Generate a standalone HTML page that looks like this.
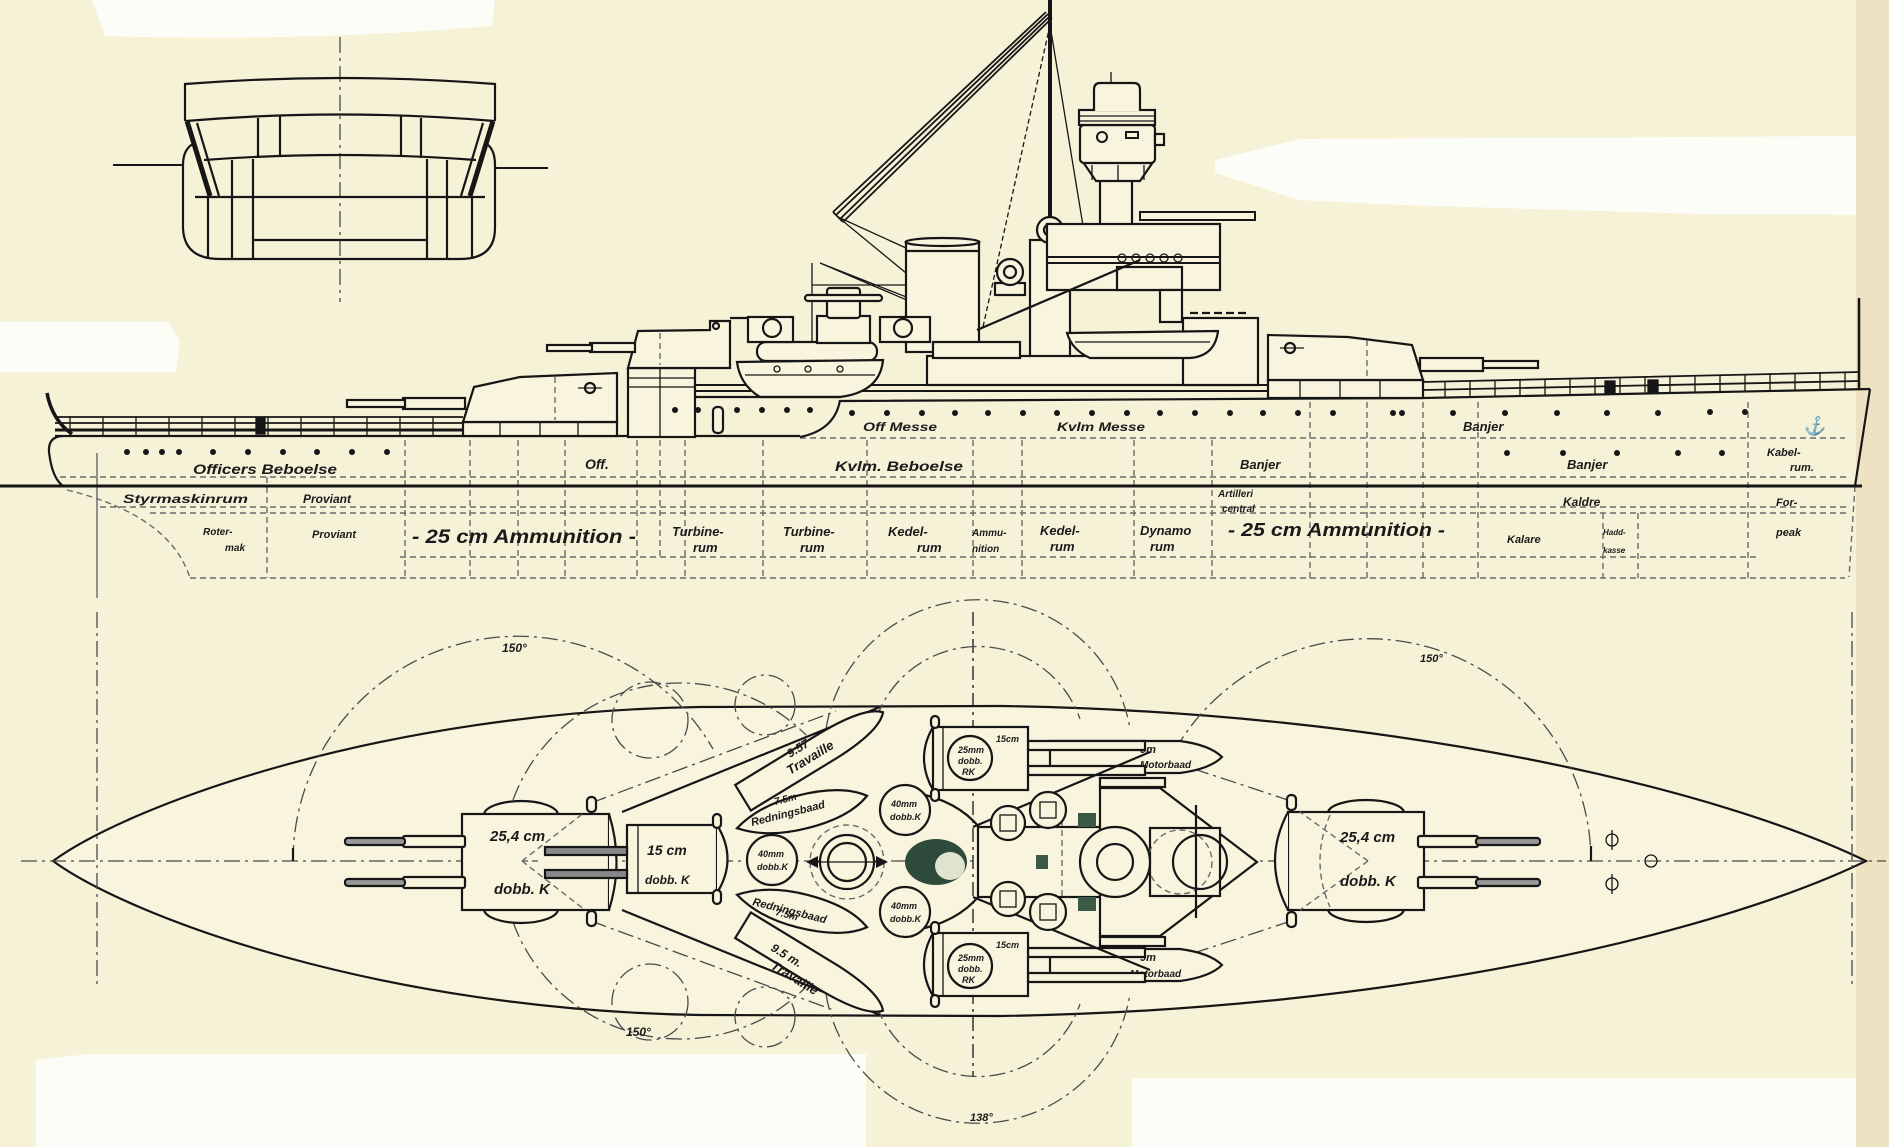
<!DOCTYPE html>
<html><head><meta charset="utf-8"><style>
html,body{margin:0;padding:0;background:#f6f2d8;}
svg{display:block}
text{font-family:"Liberation Sans",sans-serif;font-style:italic;font-weight:bold;fill:#1a1a1a}
.k{stroke:#161616;fill:none;stroke-width:2.2}
.kf{stroke:#161616;fill:#f8f4de;stroke-width:2.2}
.d{stroke:#6a6a6a;fill:none;stroke-width:1.4;stroke-dasharray:6 4}
.dd{stroke:#4a4a4a;fill:none;stroke-width:1.3;stroke-dasharray:16 5 3 5}
.t{stroke:#161616;fill:none;stroke-width:1.3}
</style></head><body>
<svg xmlns="http://www.w3.org/2000/svg" width="1889" height="1147" viewBox="0 0 1889 1147">
<rect width="1889" height="1147" fill="#f6f2d8"/>
<!-- white patches -->
<path d="M92,0 H495 L492,26 Q300,42 105,36 Z" fill="#fdfdf8"/>
<path d="M0,322 H168 L180,340 L176,372 H0 Z" fill="#fdfdf8"/>
<path d="M1215,160 L1300,139 L1889,136 V215 L1700,214 L1400,205 L1300,200 L1215,173 Z" fill="#fdfdf8"/>
<path d="M36,1060 L90,1054 H866 V1147 H36 Z" fill="#fdfdf8"/>
<path d="M1132,1078 H1858 V1147 H1132 Z" fill="#fdfdf8"/>
<rect x="1856" y="0" width="33" height="1147" fill="#ede3c2"/>

<!-- ============ SECTION DRAWING ============ -->
<line class="dd" x1="340" y1="37" x2="340" y2="302"/>
<g class="k" stroke-width="2.4">
<path d="M185,121 V84 Q340,72 495,84 V121"/>
<path d="M186,121 Q340,108 494,121"/>
<path d="M204,160 Q340,150 476,160"/>
<path d="M187,121 L210,196" stroke-width="5"/>
<path d="M197,123 L219,196"/>
<path d="M493,121 L470,196" stroke-width="5"/>
<path d="M483,123 L461,196"/>
<path d="M258,118 V158 M280,116 V156 M401,116 V156 M421,118 V158"/>
<path d="M232,160 V259 M253,159 V259 M427,159 V259 M447,160 V259"/>
<path d="M208,196 V257 M472,196 V257"/>
<path d="M195,197 H485 M253,240 H427"/>
<path d="M195,143 Q183,148 183,165 V228 Q184,259 220,259 H460 Q495,259 495,228 V165 Q495,148 485,143"/>
<path d="M113,165 H183 M495,168 H548" stroke-width="2"/>
</g>

<!-- ============ SIDE VIEW ============ -->
<g class="d">
<path d="M60,477 H1850 M100,507 H1850 M150,513 H1850 M400,557 H1760 M190,578 H1845 M800,438 H1845"/>
<path d="M67,490 Q170,515 190,578"/>
<path d="M267,477 V578 M405,440 V578 M470,440 V578 M518,440 V578 M565,440 V578 M637,440 V578 M660,440 V557 M685,440 V578 M763,440 V578 M867,440 V578 M973,440 V578 M1022,440 V578 M1134,440 V578 M1212,440 V578 M1310,402 V578 M1367,402 V578 M1423,402 V578 M1478,402 V578 M1603,513 V578 M1638,513 V578 M1748,402 V578"/>
<path d="M1855,486 L1849,577"/>
</g>
<line x1="97" y1="453" x2="97" y2="598" stroke="#777" stroke-width="1.6"/>

<line x1="0" y1="486" x2="1862" y2="486" stroke="#161616" stroke-width="3"/>

<g class="k" stroke-width="3">
<path d="M62,436 Q48,437 49,452 Q52,478 63,486"/>
<path d="M55,436 H800"/>
<path d="M800,437 Q835,430 840,400"/>
<path d="M840,401 L1423,398 L1870,389"/>
<path d="M1870,389 L1855,486"/>
<path d="M47,393 Q52,420 72,434" stroke-width="3.5"/>
<path d="M1859,298 V389" stroke-width="2.5"/>
</g>
<g class="t">
<path d="M55,417 H463 M55,423 H463" stroke-width="1.8"/>
<path d="M55,430 H463" stroke-width="3"/>
<path d="M70,417V436M103,417V436M136,417V436M169,417V436M202,417V436M235,417V436M268,417V436M301,417V436M334,417V436M367,417V436M400,417V436M433,417V436"/>
<rect x="256" y="418" width="9" height="16" fill="#161616"/>
</g>
<g class="t">
<path d="M1423,382 L1860,372 M1423,390 L1860,381" stroke-width="1.8"/>
<path d="M628,385 H1268 M628,391 H1268" stroke-width="2"/>
<path d="M1445,381.5V397.5M1470,380.9V397M1495,380.4V396.5M1520,379.8V396M1545,379.2V395.5M1570,378.6V395M1595,378.1V394.5M1620,377.5V394M1645,376.9V393.4M1670,376.3V392.9M1695,375.8V392.4M1720,375.2V392M1745,374.6V391.4M1770,374.1V391M1795,373.5V390.3M1820,372.9V389.8M1845,372.3V389.3"/>
<rect x="1605" y="381" width="10" height="12" fill="#161616"/>
<rect x="1648" y="380" width="10" height="12" fill="#161616"/>
</g>

<g class="t">
<path d="M1050,25 L983,327" stroke-dasharray="5 3"/>
<path d="M1050,25 L1087,250 V290"/>
<path d="M838,217 L906,248 M838,217 L906,273 M820,263 L977,330 M820,263 L947,313 M812,263 V342 M812,285 H906"/>
<path d="M1046,12 L833,212 M1048,14 L836,215 M1050,16 L840,219 M1052,18 L843,222 M833,212 L843,222" stroke-width="1.8"/>
</g>
<line x1="1050" y1="0" x2="1050" y2="220" stroke="#161616" stroke-width="4"/>

<rect class="kf" x="906" y="242" width="73" height="110"/>
<ellipse class="kf" cx="942.5" cy="242" rx="37" ry="4"/>
<line class="k" x1="906" y1="251" x2="979" y2="251"/>

<rect class="kf" x="1030" y="240" width="40" height="118"/>
<circle class="kf" cx="1050" cy="230" r="13" stroke-width="3"/>
<circle class="k" cx="1050" cy="230" r="6"/>
<rect class="kf" x="995" y="283" width="30" height="12"/>
<circle class="kf" cx="1010" cy="272" r="13" stroke-width="3"/>
<circle class="k" cx="1010" cy="272" r="6"/>

<g class="kf">
<rect x="1100" y="178" width="32" height="48"/>
<path d="M1083,162 H1153 L1140,181 H1096 Z"/>
<rect x="1080" y="125" width="75" height="38" rx="4"/>
<rect x="1155" y="134" width="9" height="11"/>
<rect x="1079" y="110" width="76" height="15"/>
<path d="M1094,111 V90 Q1094,83 1100,83 H1134 Q1140,83 1140,90 V111"/>
</g>
<g class="t">
<path d="M1111,72 V83 M1079,116 H1155 M1079,121 H1155 M1092,165 V180 M1118,165 V180 M1144,165 V180"/>
<circle cx="1102" cy="137" r="5" stroke-width="2"/>
<rect x="1126" y="132" width="12" height="6" stroke-width="2"/>
</g>

<rect class="kf" x="1047" y="224" width="173" height="66"/>
<rect x="1140" y="212" width="115" height="8" fill="#f8f4de" stroke="#161616" stroke-width="2"/>
<g class="t">
<path d="M1047,257 H1220 M1047,263 H1220" stroke-width="2"/>
<circle cx="1122" cy="258" r="4"/><circle cx="1136" cy="258" r="4"/><circle cx="1150" cy="258" r="4"/><circle cx="1164" cy="258" r="4"/><circle cx="1178" cy="258" r="4"/>
</g>
<rect class="kf" x="1117" y="267" width="65" height="23"/>
<rect class="kf" x="1160" y="290" width="22" height="32"/>

<rect class="kf" x="927" y="356" width="310" height="29"/>
<rect class="kf" x="1183" y="318" width="75" height="67"/>
<rect class="kf" x="933" y="342" width="87" height="16"/>
<path class="k" d="M1190,313 H1250" stroke-dasharray="8 4" stroke-width="3"/>
<path class="k" d="M977,330 L1140,260" stroke-width="4"/>

<rect class="kf" x="757" y="342" width="120" height="19" rx="9"/>
<rect class="kf" x="748" y="317" width="45" height="25"/>
<circle class="k" cx="772" cy="328" r="9"/>
<line class="k" x1="730" y1="318" x2="748" y2="318" stroke-width="3"/>
<rect class="kf" x="880" y="317" width="50" height="25"/>
<circle class="k" cx="903" cy="328" r="9"/>
<rect class="kf" x="817" y="316" width="53" height="27"/>
<rect class="kf" x="827" y="288" width="33" height="30" rx="3"/>
<rect class="kf" x="805" y="295" width="77" height="6" rx="3"/>

<path class="kf" d="M737,362 L883,360 Q880,392 840,397 L760,397 Q740,385 737,362 Z"/>
<g class="t"><circle cx="777" cy="369" r="3"/><circle cx="808" cy="369" r="3"/><circle cx="840" cy="369" r="3"/><path d="M745,375 H875"/></g>
<path class="kf" d="M1067,333 L1218,331 Q1215,356 1190,358 L1090,358 Q1072,350 1067,333 Z"/>
<path class="t" d="M1075,342 H1210"/>

<path class="k" d="M628,397 H840"/>
<rect class="kf" x="628" y="368" width="67" height="69"/>
<path class="t" d="M628,378 H695 M628,387 H695 M660,368 V437"/>
<rect class="kf" x="713" y="407" width="10" height="26" rx="4"/>

<rect class="kf" x="463" y="422" width="154" height="14"/>
<path class="t" d="M500,422 V436 M540,422 V436 M578,422 V436"/>
<path class="kf" d="M463,422 L474,387 L520,377 L617,373 L617,422 Z"/>
<rect class="kf" x="403" y="398" width="62" height="11"/>
<rect class="kf" x="347" y="400" width="58" height="7"/>
<circle class="k" cx="590" cy="388" r="5"/><path class="t" d="M578,388 H602"/>
<path class="d" d="M555,377 V420"/>

<path class="kf" d="M628,368 L638,331 L710,330 L710,321 L730,321 L730,368 Z"/>
<rect class="kf" x="590" y="343" width="45" height="9"/>
<rect class="kf" x="547" y="345" width="45" height="6"/>
<circle class="k" cx="716" cy="326" r="3"/>
<path class="d" d="M660,333 V365"/>

<rect class="kf" x="1268" y="380" width="155" height="18"/>
<path class="t" d="M1300,380 V398 M1340,380 V398 M1380,380 V398"/>
<path class="kf" d="M1268,380 L1268,335 L1348,337 L1412,345 L1423,380 Z"/>
<rect class="kf" x="1420" y="358" width="63" height="13"/>
<rect class="kf" x="1483" y="361" width="55" height="7"/>
<circle class="k" cx="1290" cy="348" r="5"/><path class="t" d="M1280,348 H1304"/>
<path class="d" d="M1367,340 V378"/>

<g fill="#161616">
<circle cx="127" cy="452" r="3"/><circle cx="146" cy="452" r="3"/><circle cx="162" cy="452" r="3"/><circle cx="179" cy="452" r="3"/><circle cx="213" cy="452" r="3"/><circle cx="248" cy="452" r="3"/><circle cx="283" cy="452" r="3"/><circle cx="317" cy="452" r="3"/><circle cx="352" cy="452" r="3"/><circle cx="387" cy="452" r="3"/>
<circle cx="675" cy="410" r="3"/><circle cx="698" cy="410" r="3"/><circle cx="737" cy="410" r="3"/><circle cx="762" cy="410" r="3"/><circle cx="787" cy="410" r="3"/><circle cx="810" cy="410" r="3"/>
<circle cx="852" cy="413" r="3"/><circle cx="887" cy="413" r="3"/><circle cx="922" cy="413" r="3"/><circle cx="955" cy="413" r="3"/><circle cx="988" cy="413" r="3"/><circle cx="1023" cy="413" r="3"/><circle cx="1057" cy="413" r="3"/><circle cx="1092" cy="413" r="3"/><circle cx="1127" cy="413" r="3"/><circle cx="1160" cy="413" r="3"/><circle cx="1195" cy="413" r="3"/><circle cx="1230" cy="413" r="3"/><circle cx="1263" cy="413" r="3"/><circle cx="1298" cy="413" r="3"/><circle cx="1333" cy="413" r="3"/><circle cx="1393" cy="413" r="3"/><circle cx="1402" cy="413" r="3"/><circle cx="1453" cy="413" r="3"/><circle cx="1505" cy="413" r="3"/><circle cx="1557" cy="413" r="3"/><circle cx="1607" cy="413" r="3"/><circle cx="1658" cy="413" r="3"/><circle cx="1710" cy="412" r="3"/><circle cx="1745" cy="412" r="3"/>
<circle cx="1507" cy="453" r="3"/><circle cx="1563" cy="453" r="3"/><circle cx="1617" cy="453" r="3"/><circle cx="1678" cy="453" r="3"/><circle cx="1722" cy="453" r="3"/>
</g>
<text x="1803" y="432" font-size="18" font-style="normal">⚓</text>

<g>
<text x="193" y="474" font-size="14" textLength="144" lengthAdjust="spacingAndGlyphs">Officers Beboelse</text>
<text x="585" y="469" font-size="14">Off.</text>
<text x="863" y="431" font-size="12" textLength="74" lengthAdjust="spacingAndGlyphs">Off Messe</text>
<text x="1057" y="431" font-size="12" textLength="88" lengthAdjust="spacingAndGlyphs">Kvlm Messe</text>
<text x="835" y="471" font-size="14" textLength="128" lengthAdjust="spacingAndGlyphs">Kvlm. Beboelse</text>
<text x="1240" y="469" font-size="13">Banjer</text>
<text x="1463" y="431" font-size="13">Banjer</text>
<text x="1567" y="469" font-size="13">Banjer</text>
<text x="1767" y="456" font-size="11">Kabel-</text>
<text x="1790" y="471" font-size="11">rum.</text>
<text x="123" y="503" font-size="12" textLength="125" lengthAdjust="spacingAndGlyphs">Styrmaskinrum</text>
<text x="303" y="503" font-size="12">Proviant</text>
<text x="203" y="535" font-size="10">Roter-</text>
<text x="225" y="551" font-size="10">mak</text>
<text x="312" y="538" font-size="11">Proviant</text>
<text x="412" y="543" font-size="19" font-weight="normal" textLength="224" lengthAdjust="spacingAndGlyphs">- 25 cm Ammunition -</text>
<text x="672" y="536" font-size="13" font-weight="normal">Turbine-</text>
<text x="693" y="552" font-size="13" font-weight="normal">rum</text>
<text x="783" y="536" font-size="13" font-weight="normal">Turbine-</text>
<text x="800" y="552" font-size="13" font-weight="normal">rum</text>
<text x="888" y="536" font-size="13" font-weight="normal">Kedel-</text>
<text x="917" y="552" font-size="13" font-weight="normal">rum</text>
<text x="972" y="536" font-size="10" font-weight="normal">Ammu-</text>
<text x="972" y="552" font-size="10" font-weight="normal">nition</text>
<text x="1040" y="535" font-size="13" font-weight="normal">Kedel-</text>
<text x="1050" y="551" font-size="13" font-weight="normal">rum</text>
<text x="1140" y="535" font-size="13" font-weight="normal">Dynamo</text>
<text x="1150" y="551" font-size="13" font-weight="normal">rum</text>
<text x="1218" y="497" font-size="10">Artilleri</text>
<text x="1222" y="512" font-size="10">central</text>
<text x="1228" y="536" font-size="18" font-weight="normal" textLength="217" lengthAdjust="spacingAndGlyphs">- 25 cm Ammunition -</text>
<text x="1563" y="506" font-size="12">Kaldre</text>
<text x="1507" y="543" font-size="11">Kalare</text>
<text x="1603" y="535" font-size="8">Hadd-</text>
<text x="1603" y="553" font-size="8">kasse</text>
<text x="1776" y="506" font-size="11">For-</text>
<text x="1776" y="536" font-size="11">peak</text>
</g>

<!-- ============ PLAN VIEW ============ -->
<path class="kf" stroke-width="3" d="M53,861 C130,805 380,712 700,707 L1000,706 C1400,712 1720,790 1866,861 C1720,932 1400,1010 1000,1016 L700,1015 C380,1010 130,917 53,861 Z"/>
<line class="dd" x1="21" y1="861" x2="1886" y2="861"/>
<line class="dd" x1="97" y1="612" x2="97" y2="985"/>
<line class="dd" x1="1852" y1="612" x2="1852" y2="985"/>
<line class="t" x1="973" y1="612" x2="973" y2="1077" stroke="#555" stroke-dasharray="14 5 3 5"/>
<g class="dd">
<path d="M293,861 A225,225 0 0 1 713,749"/>
<path d="M1175,750 A223,223 0 0 1 1591,861"/>
<path d="M826,729 A154,154 0 0 1 1130,729"/>
<path d="M826,994 A154,154 0 0 0 1130,994"/>
<path d="M876,719 A108,108 0 0 1 1080,719"/>
<path d="M876,1004 A108,108 0 0 0 1080,1004"/>
<path d="M513,922 A178,178 0 0 0 806,987"/>
<path d="M513,800 A178,178 0 0 1 806,735"/>
<circle cx="650" cy="720" r="38"/>
<circle cx="765" cy="705" r="30"/>
<circle cx="650" cy="1002" r="38"/>
<circle cx="765" cy="1017" r="30"/>
<path d="M591,803 L836,711 M591,921 L836,1011 M1291,801 L1182,765 M1291,921 L1182,957"/>
</g>
<path class="k" d="M293,848 V861 M1591,846 V861" stroke-width="2"/>

<path class="k" d="M622,812 L880,707 M622,910 L880,1015" stroke-width="2.4"/>

<g class="kf">
<path d="M484,815 A37,14 0 0 1 558,815 Z"/>
<path d="M484,909 A37,14 0 0 0 558,909 Z"/>
<rect x="462" y="814" width="147" height="96"/>
<path d="M609,814 Q624,862 609,910"/>
<rect x="587" y="797" width="9" height="15" rx="4"/>
<rect x="587" y="911" width="9" height="15" rx="4"/>
<rect x="403" y="836" width="62" height="11" rx="2"/>
<rect x="345" y="838" width="60" height="7" rx="3" fill="#999"/>
<rect x="403" y="877" width="62" height="11" rx="2"/>
<rect x="345" y="879" width="60" height="7" rx="3" fill="#999"/>
</g>
<path class="d" d="M522,861 L585,812 M522,861 L585,910 M522,861 L540,861"/>
<text x="490" y="841" font-size="15">25,4 cm</text>
<text x="494" y="894" font-size="15">dobb. K</text>

<g class="kf">
<rect x="627" y="825" width="90" height="68"/>
<path d="M717,825 Q738,859 717,893"/>
<rect x="713" y="814" width="8" height="14" rx="4"/>
<rect x="713" y="890" width="8" height="14" rx="4"/>
<rect x="545" y="847" width="82" height="8" fill="#888"/>
<rect x="545" y="870" width="82" height="8" fill="#888"/>
</g>
<line class="t" x1="638" y1="825" x2="638" y2="893"/>
<text x="647" y="855" font-size="14">15 cm</text>
<text x="645" y="884" font-size="12">dobb. K</text>

<g class="kf">
<path transform="translate(813,755) rotate(-31.4)" d="M-82,-15 L20,-15 Q70,-14 82,0 Q70,14 20,15 L-82,15 Z"/>
<path transform="translate(813,968) rotate(31.4)" d="M-82,-15 L20,-15 Q70,-14 82,0 Q70,14 20,15 L-82,15 Z"/>
<path transform="translate(802,812) rotate(-14)" d="M-67,0 Q-40,-17 0,-17 Q45,-17 67,0 Q45,17 0,17 Q-40,17 -67,0 Z"/>
<path transform="translate(802,911) rotate(14)" d="M-67,0 Q-40,-17 0,-17 Q45,-17 67,0 Q45,17 0,17 Q-40,17 -67,0 Z"/>
<path d="M1050,741 L1180,741 Q1210,745 1222,757 Q1210,769 1180,773 L1050,773 Z"/>
<path d="M1050,949 L1180,949 Q1210,953 1222,965 Q1210,977 1180,981 L1050,981 Z"/>
</g>
<text transform="translate(790,758) rotate(-31.4)" font-size="12">9.57</text>
<text transform="translate(790,775) rotate(-31.4)" font-size="13">Travaille</text>
<text transform="translate(775,805) rotate(-14)" font-size="10">7.5m</text>
<text transform="translate(752,826) rotate(-14)" font-size="11">Redningsbaad</text>
<text transform="translate(775,915) rotate(14)" font-size="10">7.5m</text>
<text transform="translate(752,905) rotate(14)" font-size="11">Redningsbaad</text>
<text transform="translate(770,950) rotate(31.4)" font-size="12">9.5 m.</text>
<text transform="translate(770,968) rotate(31.4)" font-size="13">Travaille</text>
<text x="1140" y="753" font-size="11">9m</text>
<text x="1140" y="768" font-size="10">Motorbaad</text>
<text x="1140" y="961" font-size="11">9m</text>
<text x="1130" y="977" font-size="10">Motorbaad</text>

<g class="kf"><circle cx="772" cy="860" r="25"/><circle cx="905" cy="810" r="25"/><circle cx="905" cy="912" r="25"/></g>
<g font-size="9"><text x="758" y="857">40mm</text><text x="757" y="870">dobb.K</text>
<text x="891" y="807">40mm</text><text x="890" y="820">dobb.K</text>
<text x="891" y="909">40mm</text><text x="890" y="922">dobb.K</text></g>

<circle class="d" cx="847" cy="862" r="37"/>
<circle class="kf" cx="847" cy="862" r="27" stroke-width="3"/>
<circle class="k" cx="847" cy="862" r="19" stroke-width="2.5"/>
<path class="t" d="M812,862 H882"/>
<path d="M806,862 L818,856 L818,868 Z M888,862 L876,856 L876,868 Z" fill="#161616"/>

<path class="k" d="M925,795 Q965,805 985,835 M925,928 Q965,918 985,888" stroke-width="2.5"/>
<ellipse cx="936" cy="862" rx="31" ry="23" fill="#2d4a3a"/>
<ellipse cx="950" cy="866" rx="15" ry="14" fill="#dfe3cf"/>

<g class="kf">
<path d="M1028,741 L1145,741 V750 H1028 Z M1028,766 H1145 V775 H1028 Z"/>
<path d="M933,727 Q915,758 933,790"/>
<rect x="933" y="727" width="95" height="63"/>
<rect x="931" y="716" width="8" height="12" rx="4"/>
<rect x="931" y="789" width="8" height="12" rx="4"/>
<circle cx="970" cy="758" r="22"/>
<path d="M1028,948 L1145,948 V957 H1028 Z M1028,973 H1145 V982 H1028 Z"/>
<path d="M933,933 Q915,965 933,996"/>
<rect x="933" y="933" width="95" height="63"/>
<rect x="931" y="922" width="8" height="12" rx="4"/>
<rect x="931" y="995" width="8" height="12" rx="4"/>
<circle cx="970" cy="966" r="22"/>
</g>
<path class="t" d="M943,727 V790 M943,933 V996"/>
<g font-size="9"><text x="958" y="753">25mm</text><text x="958" y="764">dobb.</text><text x="962" y="775">RK</text><text x="996" y="742">15cm</text>
<text x="958" y="961">25mm</text><text x="958" y="972">dobb.</text><text x="962" y="983">RK</text><text x="996" y="948">15cm</text></g>
<path class="k" d="M973,827 L1150,752 M973,897 L1150,970" stroke-width="2.5"/>

<rect class="kf" x="978" y="827" width="122" height="70"/>
<path class="d" d="M1062,800 V925"/>
<g class="kf">
<circle cx="1008" cy="823" r="17"/><circle cx="1048" cy="810" r="18"/>
<circle cx="1008" cy="899" r="17"/><circle cx="1048" cy="912" r="18"/>
</g>
<g class="t" stroke-width="2"><rect x="1000" y="815" width="16" height="16"/><rect x="1040" y="802" width="16" height="16"/><rect x="1000" y="891" width="16" height="16"/><rect x="1040" y="904" width="16" height="16"/></g>
<g fill="#3a5a45"><rect x="1078" y="813" width="18" height="14"/><rect x="1078" y="897" width="18" height="14"/><rect x="1036" y="855" width="12" height="14"/></g>
<path class="kf" d="M1100,788 H1160 L1257,862 L1160,936 H1100 Z"/>
<rect class="kf" x="1100" y="778" width="65" height="9"/>
<rect class="kf" x="1100" y="937" width="65" height="9"/>
<rect class="kf" x="1150" y="828" width="70" height="68"/>
<circle class="d" cx="1180" cy="862" r="32"/>
<circle class="k" cx="1200" cy="862" r="27"/>
<line class="k" x1="1196" y1="805" x2="1196" y2="918" stroke-width="4"/>
<circle class="kf" cx="1115" cy="862" r="35" stroke-width="3"/>
<circle class="k" cx="1115" cy="862" r="18" stroke-width="2.5"/>

<g class="kf">
<path d="M1328,813 A38,13 0 0 1 1404,813 Z"/>
<path d="M1328,909 A38,13 0 0 0 1404,909 Z"/>
<rect x="1288" y="812" width="136" height="98"/>
<path d="M1288,812 Q1262,861 1288,910"/>
<rect x="1287" y="795" width="9" height="15" rx="4"/>
<rect x="1287" y="912" width="9" height="15" rx="4"/>
<rect x="1418" y="836" width="60" height="11" rx="2"/>
<rect x="1476" y="838" width="64" height="7" rx="3" fill="#999"/>
<rect x="1418" y="877" width="60" height="11" rx="2"/>
<rect x="1476" y="879" width="64" height="7" rx="3" fill="#999"/>
</g>
<path class="d" d="M1368,861 L1300,812 M1368,861 L1300,910 M1330,815 Q1310,861 1330,907"/>
<text x="1340" y="842" font-size="15">25,4 cm</text>
<text x="1340" y="886" font-size="15">dobb. K</text>

<g class="t" stroke-width="2"><circle cx="1651" cy="861" r="6"/><circle cx="1612" cy="840" r="6"/><path d="M1612,830 V850"/><circle cx="1612" cy="884" r="6"/><path d="M1612,874 V894"/></g>

<text x="502" y="652" font-size="12">150°</text>
<text x="1420" y="662" font-size="11">150°</text>
<text x="626" y="1036" font-size="12">150°</text>
<text x="970" y="1121" font-size="11">138°</text>
</svg>
</body></html>
